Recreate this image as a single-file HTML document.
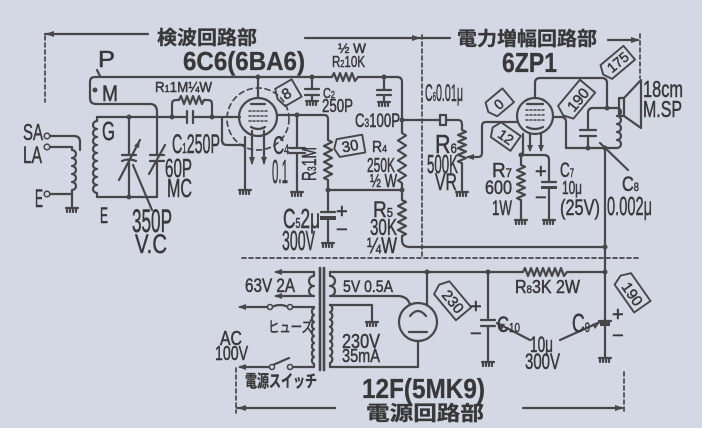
<!DOCTYPE html>
<html><head><meta charset="utf-8"><style>
html,body{margin:0;padding:0;background:#d4d7e4;}
svg{display:block;}
text{font-family:"Liberation Sans","Noto Sans CJK JP",sans-serif;fill:#383838;stroke:#383838;stroke-width:0.5;}
.j{font-family:"Liberation Sans","Noto Sans CJK JP",sans-serif;font-weight:bold;stroke-width:0.3;}
</style></head><body>
<svg width="702" height="428" viewBox="0 0 702 428" xmlns="http://www.w3.org/2000/svg">
<rect width="702" height="428" fill="#d4d7e4"/>
<g fill="none" stroke="#474747" stroke-width="2.2" stroke-linecap="round" stroke-linejoin="round">
<!-- section markers -->
<path d="M45 34 H148"/>
<path d="M305 38 H450"/>
<path d="M608 40 H638"/>
<path d="M237 408 H335"/>
<path d="M523 408 H622"/>
<g stroke-dasharray="4 3" stroke-width="1.7">
<path d="M45 36 V102"/><path d="M422 35 V258"/><path d="M640 34 V78"/>
<path d="M242 258 H640"/><path d="M236 368 V413"/><path d="M624 372 V413"/>
</g>
<!-- antenna coil -->
<path d="M50 136 H74 Q80 136 80 142 V150"/>
<path d="M50 147 H72 V150 a4 4 0 0 1 0 8 a4 4 0 0 1 0 8 a4 4 0 0 1 0 8 a4 4 0 0 1 0 8 a4 4 0 0 1 0 8 V208"/>
<path d="M50 194 H72"/>
<path d="M66 208 H78 M67 208 v4 M70 208 v4 M73 208 v4 M76 208 v4"/>
<!-- secondary coil -->
<path d="M97 117 V121 a4 4 0 0 0 0 8 a4 4 0 0 0 0 8 a4 4 0 0 0 0 8 a4 4 0 0 0 0 8 a4 4 0 0 0 0 8 a4 4 0 0 0 0 8 a4 4 0 0 0 0 8 a4 4 0 0 0 0 8 a4 4 0 0 0 0 8 V197 H157"/>
<path d="M97 117 H187 M193 117 H240"/>
<path d="M187 111 V123 M193 111 V123"/>
<!-- M box & top B+ -->
<path d="M90 98 V82 Q90 77 95 77 H332 l2 -4 l3 8 l3 -8 l3 8 l3 -8 l3 8 l3 -8 l3 8 l3 -4 H397 Q402 77 402 82 V133 l4 2.5 l-8 5 l8 5 l-8 5 l8 5 l-8 5 l8 5 l-8 5 l8 5 l-8 5 l4 2.5 V200 l4 2 l-8 4 l8 4 l-8 4 l8 4 l-8 4 l8 4 l-8 4 l8 4 l-4 2 V240 Q402 247 410 247 H605"/>
<path d="M90 98 Q90 104 96 104 H150 Q157 104 157 112 V155 M157 161 V197"/>
<path d="M150 155 H164 M150 161 H164 M149 174 L165 145"/>
<path d="M129 117 V155 M129 161 V197 M122 155 H136 M122 161 Q129 158 136 161 M119 180 L140 140 M152 210 L133 165"/>
<path d="M97 70 L100 76"/>
<!-- R1 -->
<path d="M172 117 V104 Q172 100 176 100 H179 l2 -4 l3 8 l3 -8 l3 8 l3 -8 l3 8 l3 -8 l3 8 l2 -4 H208 Q212 100 212 104 V117"/>
<!-- grid bracket & cathode -->
<path d="M222 117 V140 Q222 145 227 145 H245 M245 137 V190"/>
<path d="M239 190 H251 M240 190 v4 M243 190 v4 M246 190 v4 M249 190 v4"/>
<!-- 6C6 -->
<circle cx="258" cy="117" r="19"/>
<circle cx="258" cy="119" r="31" stroke-dasharray="5 4" stroke-width="1.7"/>
<path d="M251 104 H265 M251 127 Q258 131 265 127"/>
<path d="M249 111 H267 M249 116 H267 M249 121 H267" stroke-dasharray="2 2" stroke-width="1.5"/>
<path d="M252 131 V163 M264 131 V163"/>
<path d="M258 98 V77"/>
<path d="M277 115 H324 Q328 115 328 119 V140 l4 2 l-8 4 l8 4 l-8 4 l8 4 l-8 4 l8 4 l-8 4 l8 4 l-8 4 l4 2 V190 H402"/>
<path d="M297 115 V148 M297 153 V192 M289 148 H305 M289 153 H305"/>
<path d="M291 192 H303 M292 192 v4 M295 192 v4 M298 192 v4 M301 192 v4"/>
<path d="M328 190 V212 M328 219 V243 M321 212 H335"/>
<path d="M322 243 H334 M323 243 v4 M326 243 v4 M329 243 v4 M332 243 v4"/>
<!-- C2 C3 -->
<path d="M312 77 V89 M312 95 V101 M305 89 H319 M305 95 H319"/>
<path d="M306 101 H318 M307 101 v4 M310 101 v4 M313 101 v4 M316 101 v4"/>
<path d="M384 77 V90 M384 95 V102 M377 90 H391 M377 95 H391"/>
<path d="M378 102 H390 M379 102 v4 M382 102 v4 M385 102 v4 M388 102 v4"/>
<!-- output to C6 / R6 -->
<path d="M402 120 H440 M446 120 H458 Q462 120 462 124 V130 l4 1.7 l-8 3.3 l8 3.3 l-8 3.3 l8 3.3 l-8 3.3 l8 3.3 l-8 3.3 l8 3.3 l-8 3.3 l4 1.7 V192"/>
<rect x="440" y="115" width="6" height="10"/>
<path d="M456 192 H468 M457 192 v4 M460 192 v4 M463 192 v4 M466 192 v4"/>
<path d="M468 157 H478 Q482 157 482 153 V126 Q482 122 486 122 H517"/>
<!-- 6ZP1 -->
<circle cx="535" cy="116" r="18"/>
<path d="M527 104 H543 M527 127 Q535 131 543 127"/>
<path d="M526 110 H544 M526 115 H544 M526 120 H544" stroke-dasharray="2 2" stroke-width="1.5"/>
<path d="M535 98 V83 Q535 78 540 78 H602 Q607 78 607 83 V108"/>
<path d="M588 148 V136 M588 130 V113 Q588 108 593 108 H617 M580 130 H596 M580 136 H596"/>
<path d="M617 108 a4 4 0 0 1 0 8 a4 4 0 0 1 0 8 a4 4 0 0 1 0 8 a4 4 0 0 1 0 8 a4 4 0 0 1 0 8"/>
<path d="M553 117 H561 Q566 117 566 122 V148 H617"/>
<path d="M605 148 V358 M600 143 L628 170"/>
<rect x="619" y="98" width="5" height="18"/>
<path d="M624 98 L641 80 V128 L624 116"/>
<path d="M523 134 V155 M521 155 V165 l4 1.75 l-8 3.5 l8 3.5 l-8 3.5 l8 3.5 l-8 3.5 l8 3.5 l-8 3.5 l8 3.5 l-8 3.5 l4 1.75 V220"/>
<path d="M515 220 H527 M516 220 v4 M519 220 v4 M522 220 v4 M525 220 v4"/>
<path d="M521 155 H544 Q549 155 549 160 V182 M549 188 V220 M542 182 H556"/>
<path d="M543 220 H555 M544 220 v4 M547 220 v4 M550 220 v4 M553 220 v4"/>
<path d="M530 134 V150 M541 134 V150"/>
<!-- power supply -->
<path d="M330 272 H523 l2 -4 l3 8 l3 -8 l3 8 l3 -8 l3 8 l3 -8 l3 8 l3 -8 l3 8 l3 -8 l3 8 l3 -8 l3 8 l3 -4 H605"/>
<path d="M320 268 V370 M324 268 V370" stroke-width="2.6"/>
<path d="M314 272 H276 M314 296 H276"/>
<path d="M314 272 V276 a4 4 0 0 0 0 10 a4 4 0 0 0 0 10"/>
<path d="M240 307 H268 M292 307 H314 V308 a4 4 0 0 0 0 7 a4 4 0 0 0 0 7 a4 4 0 0 0 0 7 a4 4 0 0 0 0 7 a4 4 0 0 0 0 7 a4 4 0 0 0 0 7 a4 4 0 0 0 0 7 a4 4 0 0 0 0 7 V367 H292 M270 367 H240"/>
<path d="M272 307 Q280 303 288 307 M273 365 L289 358"/>
<path d="M330 272 V276 a4 4 0 0 1 0 10 a4 4 0 0 1 0 10 H397 Q408 296 410 305"/>
<path d="M330 305 a4 4 0 0 1 0 7.25 a4 4 0 0 1 0 7.25 a4 4 0 0 1 0 7.25 a4 4 0 0 1 0 7.25 a4 4 0 0 1 0 7.25 a4 4 0 0 1 0 7.25 a4 4 0 0 1 0 7.25 a4 4 0 0 1 0 7.25 V367 H418 V341"/>
<path d="M330 305 H372 V322"/>
<path d="M366 322 H378 M367 322 v4 M370 322 v4 M373 322 v4 M376 322 v4"/>
<circle cx="418" cy="322" r="19"/>
<path d="M427 272 V305 M410 316 Q418 306 426 316 M409 332 H427"/>
<path d="M488 272 V320 M488 326 V362 M481 320 H495 M481 326 H495"/>
<path d="M482 362 H494 M483 362 v4 M486 362 v4 M489 362 v4 M492 362 v4"/>
<path d="M599 321 H611"/>
<path d="M599 358 H611 M600 358 v4 M603 358 v4 M606 358 v4 M609 358 v4"/>
<path d="M530 340 L497 323 M560 340 L600 322"/>
<!-- tags -->
<g stroke-width="1.9">
<g transform="translate(288,93) rotate(-30)"><path d="M-9 -10 H10 V10 H-9 L-12 0 Z"/></g>
<g transform="translate(350,146) rotate(-10)"><path d="M-12 -9 H14 V9 H-12 L-16 0 Z"/></g>
<g transform="translate(499,103) rotate(-40)"><path d="M-10 -9 H12 V9 H-10 L-14 0 Z"/></g>
<g transform="translate(505,136) rotate(35)"><path d="M-11 -9 H13 V9 H-11 L-15 0 Z"/></g>
<g transform="translate(576,100) rotate(-50)"><path d="M-16 -10 H18 V10 H-16 L-20 0 Z"/></g>
<g transform="translate(617,63) rotate(-40)"><path d="M-14 -9 H16 V9 H-14 L-18 0 Z"/></g>
<g transform="translate(452,300) rotate(50)"><path d="M-16 -10 H18 V10 H-16 L-20 0 Z"/></g>
<g transform="translate(632,292) rotate(55)"><path d="M-16 -10 H18 V10 H-16 L-20 0 Z"/></g>
</g>
</g>
<!-- dots & arrowheads -->
<g fill="#474747">
<circle cx="129" cy="117" r="2.5"/><circle cx="129" cy="197" r="2.5"/><circle cx="172" cy="117" r="2.5"/><circle cx="212" cy="117" r="2.5"/>
<circle cx="258" cy="77" r="2.5"/><circle cx="312" cy="77" r="2.5"/><circle cx="384" cy="77" r="2.5"/><circle cx="297" cy="115" r="2.5"/>
<circle cx="328" cy="190" r="2.5"/><circle cx="402" cy="190" r="2.5"/><circle cx="402" cy="120" r="2.5"/><circle cx="95" cy="90" r="2.5"/>
<circle cx="607" cy="108" r="2.5"/><circle cx="588" cy="148" r="2.5"/><circle cx="605" cy="148" r="2.5"/><circle cx="521" cy="155" r="2.5"/>
<circle cx="605" cy="247" r="2.5"/><circle cx="605" cy="272" r="2.5"/><circle cx="427" cy="272" r="2.5"/><circle cx="488" cy="272" r="2.5"/>
<rect x="320" y="216" width="16" height="4"/><rect x="600" y="322" width="10" height="4"/><rect x="541" y="186" width="16" height="3"/>
<polygon points="45,34 54,31 54,37"/><polygon points="421,38 412,35 412,41"/><polygon points="640,40 631,37 631,43"/>
<polygon points="237,408 246,405 246,411"/><polygon points="624,408 615,405 615,411"/>
<polygon points="274,272 282,269 282,275"/><polygon points="274,296 282,293 282,299"/>
<polygon points="238,307 246,304 246,310"/><polygon points="238,367 246,364 246,370"/>
<polygon points="252,165 249,157 255,157"/><polygon points="264,165 261,157 267,157"/>
<polygon points="530,152 527,145 533,145"/><polygon points="541,152 538,145 544,145"/>
<polygon points="140,140 134,146 139,148"/><polygon points="466,157 474,154 474,160"/>
<polygon points="496,323 505,324 502,330"/><polygon points="601,321 595,329 592,324"/>
</g>
<g fill="#d4d7e4" stroke="#474747" stroke-width="1.6">
<circle cx="47" cy="136" r="2.8"/><circle cx="47" cy="147" r="2.8"/><circle cx="47" cy="194" r="2.8"/>
<circle cx="270" cy="307" r="2.5"/><circle cx="290" cy="307" r="2.5"/><circle cx="272" cy="367" r="2.5"/><circle cx="290" cy="367" r="2.5"/>
</g>
<!-- titles -->
<text class="j" x="157" y="44" font-size="19" textLength="100" lengthAdjust="spacingAndGlyphs">検波回路部</text>
<text class="j" x="183" y="70" font-size="26" textLength="122" lengthAdjust="spacingAndGlyphs">6C6(6BA6)</text>
<text class="j" x="457" y="45" font-size="19" textLength="140" lengthAdjust="spacingAndGlyphs">電力増幅回路部</text>
<text class="j" x="502" y="72" font-size="28" textLength="55" lengthAdjust="spacingAndGlyphs">6ZP1</text>
<text class="j" x="362" y="398" font-size="28" textLength="123" lengthAdjust="spacingAndGlyphs">12F(5MK9)</text>
<text class="j" x="366" y="420" font-size="20" textLength="118" lengthAdjust="spacingAndGlyphs">電源回路部</text>
<!-- labels -->
<g>
<text x="98" y="67" font-size="23" textLength="17" lengthAdjust="spacingAndGlyphs">P</text>
<text x="102" y="101" font-size="22" textLength="16" lengthAdjust="spacingAndGlyphs">M</text>
<text x="155" y="92" font-size="15" textLength="57" lengthAdjust="spacingAndGlyphs">R<tspan font-size="10">1</tspan>1M¼W</text>
<text x="102" y="140" font-size="26" textLength="13" lengthAdjust="spacingAndGlyphs">G</text>
<text x="23" y="140" font-size="23" textLength="20" lengthAdjust="spacingAndGlyphs">SA</text>
<text x="23" y="163" font-size="24" textLength="19" lengthAdjust="spacingAndGlyphs">LA</text>
<text x="35" y="207" font-size="25" textLength="8" lengthAdjust="spacingAndGlyphs">E</text>
<text x="172" y="153" font-size="27" textLength="48" lengthAdjust="spacingAndGlyphs">C<tspan font-size="15">1</tspan>250P</text>
<text x="165" y="177" font-size="26" textLength="27" lengthAdjust="spacingAndGlyphs">60P</text>
<text x="167" y="197" font-size="26" textLength="25" lengthAdjust="spacingAndGlyphs">MC</text>
<text x="100" y="223" font-size="22" textLength="8" lengthAdjust="spacingAndGlyphs">E</text>
<text x="132" y="232" font-size="32" textLength="40" lengthAdjust="spacingAndGlyphs">350P</text>
<text x="135" y="253" font-size="27" textLength="32" lengthAdjust="spacingAndGlyphs">V.C</text>
<text x="273" y="154" font-size="25" textLength="16" lengthAdjust="spacingAndGlyphs">C<tspan font-size="14">4</tspan></text>
<text x="272" y="183" font-size="33" textLength="16" lengthAdjust="spacingAndGlyphs">0.1</text>
<text x="0" y="0" font-size="20" textLength="34" lengthAdjust="spacingAndGlyphs" transform="translate(316,181) rotate(-90)">R<tspan font-size="12">3</tspan>1M</text>
<text x="323" y="98" font-size="15" textLength="12" lengthAdjust="spacingAndGlyphs">C<tspan font-size="10">2</tspan></text>
<text x="322" y="112" font-size="18" textLength="31" lengthAdjust="spacingAndGlyphs">250P</text>
<text x="338" y="53" font-size="14" textLength="28" lengthAdjust="spacingAndGlyphs">½ W</text>
<text x="332" y="67" font-size="16" textLength="33" lengthAdjust="spacingAndGlyphs">R<tspan font-size="10">2</tspan>10K</text>
<text x="355" y="127" font-size="19" textLength="45" lengthAdjust="spacingAndGlyphs">C<tspan font-size="12">3</tspan>100P</text>
<text x="372" y="152" font-size="16" textLength="15" lengthAdjust="spacingAndGlyphs">R<tspan font-size="10">4</tspan></text>
<text x="367" y="172" font-size="20" textLength="28" lengthAdjust="spacingAndGlyphs">250K</text>
<text x="370" y="187" font-size="18" textLength="27" lengthAdjust="spacingAndGlyphs">½ W</text>
<text x="283" y="228" font-size="28" textLength="37" lengthAdjust="spacingAndGlyphs">C<tspan font-size="15">5</tspan>2μ</text>
<text x="282" y="250" font-size="28" textLength="33" lengthAdjust="spacingAndGlyphs">300V</text>
<text x="336" y="218" font-size="20">+</text>
<text x="336" y="236" font-size="20">−</text>
<text x="373" y="217" font-size="22" textLength="20" lengthAdjust="spacingAndGlyphs">R<tspan font-size="13">5</tspan></text>
<text x="370" y="235" font-size="23" textLength="27" lengthAdjust="spacingAndGlyphs">30K</text>
<text x="367" y="253" font-size="22" textLength="30" lengthAdjust="spacingAndGlyphs">¼W</text>
<text x="425" y="101" font-size="24" textLength="38" lengthAdjust="spacingAndGlyphs">C<tspan font-size="13">6</tspan>0.01μ</text>
<text x="435" y="153" font-size="26" textLength="22" lengthAdjust="spacingAndGlyphs">R<tspan font-size="14">6</tspan></text>
<text x="427" y="173" font-size="26" textLength="31" lengthAdjust="spacingAndGlyphs">500K</text>
<text x="435" y="190" font-size="24" textLength="22" lengthAdjust="spacingAndGlyphs">VR</text>
<text x="492" y="177" font-size="20" textLength="20" lengthAdjust="spacingAndGlyphs">R<tspan font-size="12">7</tspan></text>
<text x="485" y="194" font-size="19" textLength="27" lengthAdjust="spacingAndGlyphs">600</text>
<text x="492" y="215" font-size="21" textLength="20" lengthAdjust="spacingAndGlyphs">1W</text>
<text x="535" y="178" font-size="20">+</text>
<text x="535" y="204" font-size="20">−</text>
<text x="560" y="177" font-size="21" textLength="14" lengthAdjust="spacingAndGlyphs">C<tspan font-size="12">7</tspan></text>
<text x="562" y="194" font-size="18" textLength="20" lengthAdjust="spacingAndGlyphs">10μ</text>
<text x="560" y="215" font-size="22" textLength="40" lengthAdjust="spacingAndGlyphs">(25V)</text>
<text x="622" y="191" font-size="21" textLength="17" lengthAdjust="spacingAndGlyphs">C<tspan font-size="12">8</tspan></text>
<text x="607" y="215" font-size="26" textLength="45" lengthAdjust="spacingAndGlyphs">0.002μ</text>
<text x="643" y="97" font-size="23" textLength="40" lengthAdjust="spacingAndGlyphs">18cm</text>
<text x="643" y="117" font-size="23" textLength="39" lengthAdjust="spacingAndGlyphs">M.SP</text>
<text x="245" y="292" font-size="19" textLength="50" lengthAdjust="spacingAndGlyphs">63V 2A</text>
<text x="343" y="292" font-size="17" textLength="50" lengthAdjust="spacingAndGlyphs">5V 0.5A</text>
<text x="268" y="332" font-size="15" textLength="45" lengthAdjust="spacingAndGlyphs">ヒューズ</text>
<text x="220" y="345" font-size="20" textLength="22" lengthAdjust="spacingAndGlyphs">AC</text>
<text x="215" y="360" font-size="20" textLength="33" lengthAdjust="spacingAndGlyphs">100V</text>
<text class="j" x="245" y="387" font-size="17" textLength="72" lengthAdjust="spacingAndGlyphs">電源スイッチ</text>
<text x="342" y="348" font-size="20" textLength="38" lengthAdjust="spacingAndGlyphs">230V</text>
<text x="342" y="362" font-size="18" textLength="38" lengthAdjust="spacingAndGlyphs">35mA</text>
<text x="515" y="293" font-size="18" textLength="65" lengthAdjust="spacingAndGlyphs">R<tspan font-size="11">8</tspan>3K 2W</text>
<text x="497" y="332" font-size="22" textLength="23" lengthAdjust="spacingAndGlyphs">C<tspan font-size="13">10</tspan></text>
<text x="470" y="313" font-size="20">+</text>
<text x="470" y="340" font-size="20">−</text>
<text x="530" y="352" font-size="22" textLength="23" lengthAdjust="spacingAndGlyphs">10μ</text>
<text x="525" y="369" font-size="22" textLength="35" lengthAdjust="spacingAndGlyphs">300V</text>
<text x="572" y="332" font-size="26" textLength="18" lengthAdjust="spacingAndGlyphs">C<tspan font-size="14">9</tspan></text>
<text x="612" y="321" font-size="20">+</text>
<text x="612" y="342" font-size="20">−</text>
<!-- tag texts -->
<text font-size="15" text-anchor="middle" transform="translate(289,98) rotate(-30)">8</text>
<text font-size="15" text-anchor="middle" transform="translate(351,151) rotate(-10)">30</text>
<text font-size="14" text-anchor="middle" transform="translate(502,108) rotate(-40)">0</text>
<text font-size="14" text-anchor="middle" transform="translate(503,141) rotate(35)">12</text>
<text font-size="15" text-anchor="middle" transform="translate(582,103) rotate(-50)">190</text>
<text font-size="14" text-anchor="middle" transform="translate(621,66) rotate(-40)">175</text>
<text font-size="15" text-anchor="middle" transform="translate(449,305) rotate(50)">230</text>
<text font-size="15" text-anchor="middle" transform="translate(628,297) rotate(55)">190</text>
</g>
</svg>
</body></html>
